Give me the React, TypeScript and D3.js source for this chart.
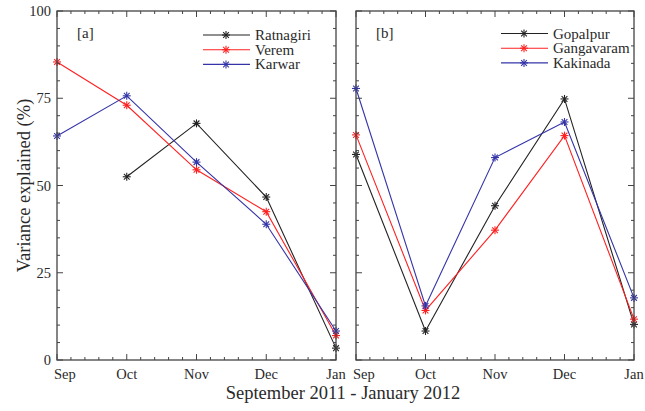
import React from "react";
import * as d3 from "d3";

const months = ["Sep", "Oct", "Nov", "Dec", "Jan"];
const yTicks = [0, 25, 50, 75, 100];

const ratnagiri = [null, 52.5, 67.8, 46.7, 3.4];
const verem = [85.4, 73.0, 54.5, 42.5, 7.0];
const karwar = [64.2, 75.7, 56.7, 38.9, 8.3];

const gopalpur = [58.9, 8.3, 44.2, 74.8, 10.2];
const gangavaram = [64.5, 14.2, 37.2, 64.3, 11.7];
const kakinada = [77.8, 15.5, 58.0, 68.2, 17.8];

const leftNames = ["Ratnagiri", "Verem", "Karwar"];
const rightNames = ["Gopalpur", "Gangavaram", "Kakinada"];
const colors = ["#222222", "#ff2020", "#3434a8"];

const W = 645, H = 411;
const top = 11, bottom = 360;
const font = "'Liberation Serif', 'Times New Roman', serif";
const axisColor = "#444";
const textColor = "#2a2a2a";

function Star({ x, y, color }: { x: number; y: number; color: string }) {
  const r = 4;
  const d = r * 0.72;
  return (
    <g stroke={color} strokeWidth={1.1}>
      <line x1={x - r} y1={y} x2={x + r} y2={y} />
      <line x1={x} y1={y - r} x2={x} y2={y + r} />
      <line x1={x - d} y1={y - d} x2={x + d} y2={y + d} />
      <line x1={x - d} y1={y + d} x2={x + d} y2={y - d} />
    </g>
  );
}

function Panel({ x0, x1, series, names, label, showY, legendX, legendY }: any) {
  const x = d3.scalePoint<string>().domain(months).range([x0, x1]);
  const y = d3.scaleLinear().domain([0, 100]).range([bottom, top]);
  const line = d3
    .line<any>()
    .defined((d) => d.v != null)
    .x((d) => x(d.m)!)
    .y((d) => y(d.v));
  const step = (x1 - x0) / (months.length - 1);
  const xMinor: number[] = [];
  for (let i = 0; i < months.length - 1; i++)
    for (let k = 1; k < 5; k++) xMinor.push(x0 + i * step + (k * step) / 5);
  const yMinor: number[] = [];
  for (let v = 0; v < 100; v += 5) if (v % 25 !== 0) yMinor.push(v);
  const major = 6, minor = 3;
  return (
    <g>
      {series.map((s: (number | null)[], si: number) => {
        const pts = months.map((m, i) => ({ m, v: s[i] }));
        return (
          <g key={si}>
            <path d={line(pts) || ""} fill="none" stroke={colors[si]} strokeWidth={1.1} />
            {pts
              .filter((p) => p.v != null)
              .map((p, i) => (
                <Star key={i} x={x(p.m)!} y={y(p.v as number)} color={colors[si]} />
              ))}
          </g>
        );
      })}
      <rect x={x0} y={top} width={x1 - x0} height={bottom - top} fill="none" stroke={axisColor} strokeWidth={1.3} />
      {months.map((m) => (
        <g key={m} stroke={axisColor} strokeWidth={1}>
          <line x1={x(m)} x2={x(m)} y1={bottom} y2={bottom - major} />
          <line x1={x(m)} x2={x(m)} y1={top} y2={top + major} />
        </g>
      ))}
      {xMinor.map((v, i) => (
        <g key={i} stroke={axisColor} strokeWidth={1}>
          <line x1={v} x2={v} y1={bottom} y2={bottom - minor} />
          <line x1={v} x2={v} y1={top} y2={top + minor} />
        </g>
      ))}
      {yTicks.map((t) => (
        <g key={t} stroke={axisColor} strokeWidth={1}>
          <line x1={x0} x2={x0 + major} y1={y(t)} y2={y(t)} />
          <line x1={x1} x2={x1 - major} y1={y(t)} y2={y(t)} />
        </g>
      ))}
      {yMinor.map((t) => (
        <g key={t} stroke={axisColor} strokeWidth={1}>
          <line x1={x0} x2={x0 + minor} y1={y(t)} y2={y(t)} />
          <line x1={x1} x2={x1 - minor} y1={y(t)} y2={y(t)} />
        </g>
      ))}
      {showY &&
        yTicks.map((t) => (
          <text key={t} x={x0 - 6} y={y(t) + 5} textAnchor="end" fontSize={14.5} fontFamily={font} fill={textColor}>
            {t}
          </text>
        ))}
      {months.map((m, i) => (
        <text
          key={m}
          x={i === 0 ? x(m)! - 3 : x(m)}
          y={378.5}
          textAnchor={i === 0 ? "start" : "middle"}
          fontSize={14.5}
          fontFamily={font}
          fill={textColor}
        >
          {m}
        </text>
      ))}
      <text x={x0 + 20} y={38} fontSize={15} fontFamily={font} fill={textColor}>
        {label}
      </text>
      {names.map((n: string, i: number) => {
        const ly = legendY + i * 14.7;
        return (
          <g key={n}>
            <line x1={legendX} x2={legendX + 47} y1={ly} y2={ly} stroke={colors[i]} strokeWidth={1.1} />
            <Star x={legendX + 23} y={ly} color={colors[i]} />
            <text x={legendX + 52} y={ly + 5} fontSize={15} fontFamily={font} fill={textColor}>
              {n}
            </text>
          </g>
        );
      })}
    </g>
  );
}

export default function App() {
  return (
    <svg width={W} height={H} style={{ position: "absolute", left: 0, top: 0, background: "#fff" }}>
      <rect width={W} height={H} fill="#fff" />
      <Panel x0={57} x1={336} series={[ratnagiri, verem, karwar]} names={leftNames} label="[a]" showY legendX={203} legendY={35} />
      <Panel x0={356} x1={634} series={[gopalpur, gangavaram, kakinada]} names={rightNames} label="[b]" showY={false} legendX={501} legendY={33.5} />
      <text
        transform={`translate(30, ${(top + bottom) / 2}) rotate(-90)`}
        textAnchor="middle"
        fontSize={18.5}
        fontFamily={font}
        fill={textColor}
      >
        Variance explained (%)
      </text>
      <text x={343} y={399} textAnchor="middle" fontSize={18.5} fontFamily={font} fill={textColor}>
        September 2011 - January 2012
      </text>
    </svg>
  );
}
